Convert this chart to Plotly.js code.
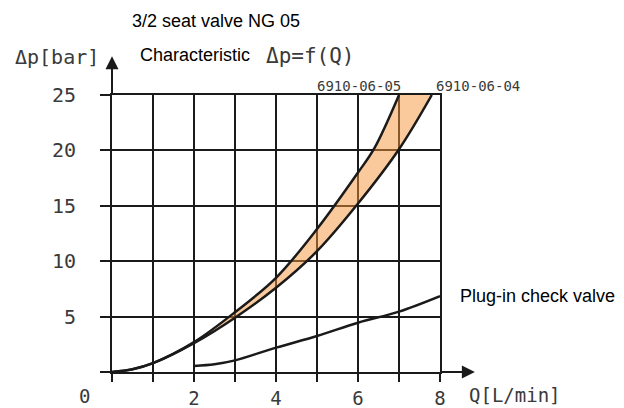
<!DOCTYPE html>
<html>
<head>
<meta charset="utf-8">
<script src="https://cdn.plot.ly/plotly-3.0.1.min.js"></script>
<style>html,body{margin:0;padding:0;background:#fff;}#chart{width:624px;height:408px;}</style>
</head>
<body>
<div id="chart"></div>
<script>
// ---- data ----
const q0605 = [0, 0.5, 1, 2, 3, 4, 5, 6, 6.4, 7];
const p0605 = [0, 0.25, 0.8, 2.7, 5.4, 8.5, 12.9, 18.0, 20.2, 25];

const q0604 = [0, 0.5, 1, 2, 3, 4, 5, 6, 7, 7.8];
const p0604 = [0, 0.25, 0.8, 2.6, 4.9, 7.6, 10.9, 15.2, 20.1, 25];

const qCheck = [2, 2.5, 3, 4, 5, 6, 7, 8];
const pCheck = [0.55, 0.7, 1.05, 2.2, 3.25, 4.45, 5.45, 6.85];

const xTickVals = [0, 1, 2, 3, 4, 5, 6, 7, 8];
const xTickText = ['', '', '2', '', '4', '', '6', '', '8'];
const yTickVals = [0, 5, 10, 15, 20, 25];
const yTickText = ['', '5', '10', '15', '20', '25'];

const curveNames = ['6910-06-05', '6910-06-04', 'Plug-in check valve'];

// ---- layout helpers (pixel -> paper) ----
const L = 112, R = 440, T = 95, B = 372;
const px = x => (x - L) / (R - L);
const py = y => (B - y) / (B - T);

const ink = '#1a1a1a';
const iso = 'DejaVu Sans Mono, monospace';
const sans = 'Liberation Sans, Arial, sans-serif';
const isoColor = '#3a3a3a';

const lineStyle = {color: ink, width: 2.5, shape: 'spline', smoothing: 1};

const traces = [
  {x: q0605, y: p0605, mode: 'lines', name: curveNames[0], line: lineStyle, hoverinfo: 'skip'},
  {x: q0604, y: p0604, mode: 'lines', name: curveNames[1], line: lineStyle,
   fill: 'tonexty', fillcolor: 'rgba(246,150,60,0.5)', hoverinfo: 'skip'},
  {x: qCheck, y: pCheck, mode: 'lines', name: curveNames[2], line: lineStyle, hoverinfo: 'skip'}
];

function txt(text, x, y, xanchor, font) {
  return {text: text, xref: 'paper', yref: 'paper', x: px(x), y: py(y),
          xanchor: xanchor, yanchor: 'middle', showarrow: false, font: font};
}

const annotations = [
  txt('Δp[bar]', 13, 57, 'left', {family: iso, size: 20, color: isoColor}),
  txt('Characteristic', 138, 55, 'left', {family: sans, size: 18, color: '#000'}),
  txt('Δp=f(Q)', 264, 56, 'left', {family: iso, size: 21, color: isoColor}),
  txt(curveNames[0], 315, 86, 'left', {family: iso, size: 14, color: isoColor}),
  txt(curveNames[1], 434, 86, 'left', {family: iso, size: 14, color: isoColor}),
  txt(curveNames[2], 458, 296, 'left', {family: sans, size: 18, color: '#000'}),
  txt('Q[L/min]', 467, 395, 'left', {family: iso, size: 19, color: isoColor}),
  txt('0', 84, 396, 'center', {family: iso, size: 19, color: isoColor}),
  // axis arrows
  {x: 0, y: 28.5, xref: 'x', yref: 'y', ax: 0, ay: 25, axref: 'x', ayref: 'y', text: '',
   showarrow: true, arrowhead: 2, arrowsize: 1.3, arrowwidth: 2, arrowcolor: ink},
  {x: 8.85, y: 0, xref: 'x', yref: 'y', ax: 8, ay: 0, axref: 'x', ayref: 'y', text: '',
   showarrow: true, arrowhead: 2, arrowsize: 1.3, arrowwidth: 2, arrowcolor: ink}
];

const axisCommon = {
  showgrid: true, gridcolor: ink, gridwidth: 2,
  showline: true, linecolor: ink, linewidth: 2, mirror: true,
  ticks: 'outside', tickcolor: ink, tickwidth: 2,
  zeroline: false, fixedrange: true,
  tickfont: {family: iso, size: 20, color: isoColor}
};

const layout = {
  width: 624, height: 408,
  margin: {l: L, r: 624 - R, t: T, b: 408 - B, pad: 0},
  paper_bgcolor: '#fff', plot_bgcolor: '#fff',
  showlegend: false,
  title: {text: '3/2 seat valve NG 05', font: {family: sans, size: 18, color: '#000'},
          xref: 'container', yref: 'container', x: 216 / 624, y: 1 - 21 / 408,
          xanchor: 'center', yanchor: 'middle'},
  xaxis: Object.assign({}, axisCommon, {range: [0, 8], tickmode: 'array',
          tickvals: xTickVals, ticktext: xTickText, ticklen: 8, ticklabelstandoff: 0,
          tickfont: {family: iso, size: 19, color: isoColor}}),
  yaxis: Object.assign({}, axisCommon, {range: [0, 25], tickmode: 'array',
          tickvals: yTickVals, ticktext: yTickText, ticklen: 10, ticklabelstandoff: 20}),
  annotations: annotations
};

Plotly.newPlot('chart', traces, layout, {displayModeBar: false, staticPlot: true});
</script>
</body>
</html>
